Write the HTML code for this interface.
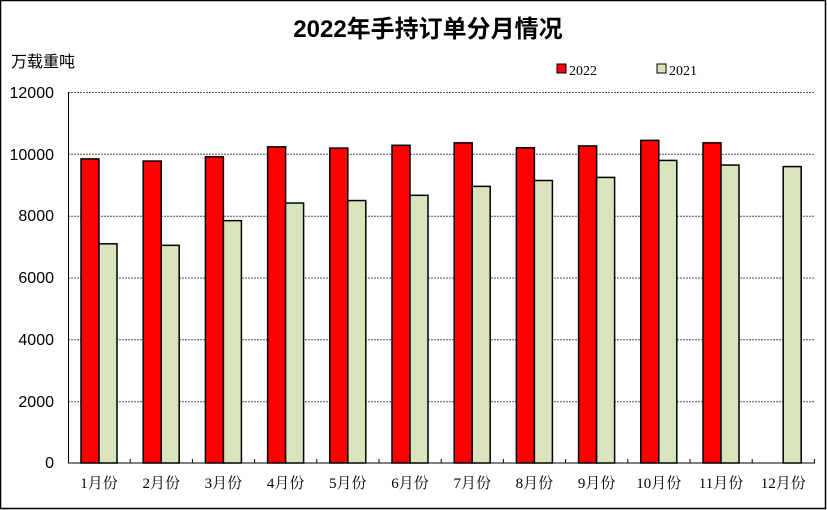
<!DOCTYPE html>
<html><head><meta charset="utf-8"><style>
body{margin:0;background:#fff}
svg{display:block}
</style></head><body>
<svg width="827" height="510" xmlns="http://www.w3.org/2000/svg">
<rect x="0.5" y="0.5" width="825" height="508" fill="#fff" stroke="#000" stroke-width="1.5"/>
<text x="428" y="37" text-anchor="middle" font-family="Liberation Sans, Noto Sans CJK SC, sans-serif" font-size="24" font-weight="bold">2022年手持订单分月情况</text>
<text x="11" y="67" font-family="Liberation Sans, Noto Sans CJK SC, sans-serif" font-size="16">万载重吨</text>
<g font-family="Liberation Sans, Noto Sans CJK SC, sans-serif" font-size="16" text-anchor="end">
<text x="54" y="98">12000</text><text x="54" y="160">10000</text><text x="54" y="221">8000</text>
<text x="54" y="283">6000</text><text x="54" y="345">4000</text><text x="54" y="407">2000</text><text x="54" y="468">0</text>
</g>
<g stroke="#555" stroke-dasharray="2,1" stroke-width="1">
<line x1="68" y1="92.5" x2="814" y2="92.5"/><line x1="68" y1="154.3" x2="814" y2="154.3"/>
<line x1="68" y1="216.2" x2="814" y2="216.2"/><line x1="68" y1="278" x2="814" y2="278"/>
<line x1="68" y1="339.8" x2="814" y2="339.8"/><line x1="68" y1="401.7" x2="814" y2="401.7"/>
</g>
<line x1="68.5" y1="92" x2="68.5" y2="463" stroke="#000"/>
<g id="bars" stroke="#000" stroke-width="1.5"></g>
<line x1="68" y1="463" x2="815" y2="463" stroke="#000"/>
<g id="ticks" stroke="#000"></g>
<g id="labels" font-family="Liberation Serif, Noto Serif CJK SC, serif" font-size="15" text-anchor="middle"></g>
<rect x="557" y="64" width="9" height="9" fill="#f00" stroke="#000"/>
<text x="569" y="75" font-family="Liberation Serif, serif" font-size="14">2022</text>
<rect x="657" y="64" width="9" height="9" fill="#d8e4bc" stroke="#000"/>
<text x="669" y="75" font-family="Liberation Serif, serif" font-size="14">2021</text>
<script>
var a=[9850,9780,9920,10240,10200,10290,10370,10210,10270,10450,10370,null];
var b=[7100,7050,7850,8420,8500,8670,8960,9150,9250,9800,9650,9600];
var ns="http://www.w3.org/2000/svg",g=document.getElementById("bars"),t=document.getElementById("ticks"),l=document.getElementById("labels");
function y(v){return 463-v*370.5/12000}
for(var i=0;i<12;i++){var x0=68+i*62.2;
if(a[i]!=null){var r=document.createElementNS(ns,"rect");r.setAttribute("x",x0+13);r.setAttribute("y",y(a[i]));r.setAttribute("width",18);r.setAttribute("height",463-y(a[i]));r.setAttribute("fill","#f00");g.appendChild(r);}
var r2=document.createElementNS(ns,"rect");r2.setAttribute("x",x0+31);r2.setAttribute("y",y(b[i]));r2.setAttribute("width",18);r2.setAttribute("height",463-y(b[i]));r2.setAttribute("fill","#d8e4bc");g.appendChild(r2);
var k=document.createElementNS(ns,"line");var tx=x0+62.2;k.setAttribute("x1",tx);k.setAttribute("x2",tx);k.setAttribute("y1",459);k.setAttribute("y2",463);t.appendChild(k);
var s=document.createElementNS(ns,"text");s.setAttribute("x",x0+31);s.setAttribute("y",488);s.textContent=(i+1)+"月份";l.appendChild(s);}
</script>
</svg>
</body></html>
